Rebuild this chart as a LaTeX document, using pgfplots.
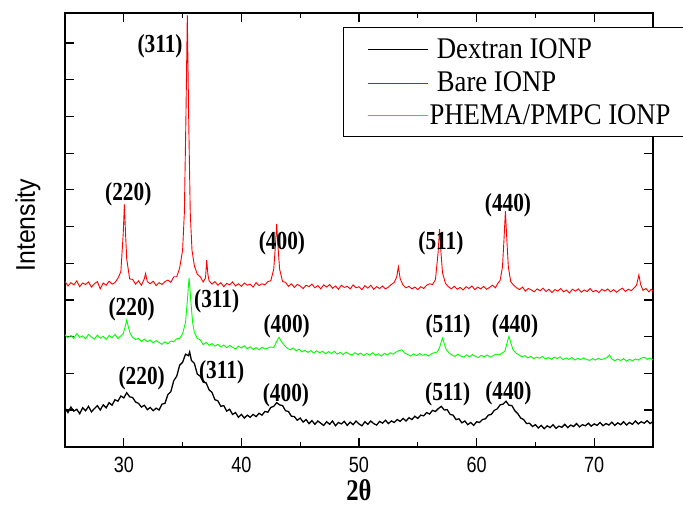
\documentclass[border=0pt]{standalone}
\usepackage{pgfplots}
\pgfplotsset{compat=1.18}
\usepackage{fontspec}
\setmainfont{Liberation Serif}
\newfontfamily\ticksans[FakeStretch=0.82]{Liberation Sans}
\newfontfamily\labsans[FakeStretch=0.92]{Liberation Sans}
\newfontfamily\legserif[FakeStretch=0.89]{Liberation Serif}
\newfontfamily\pkserif[FakeStretch=0.82]{Liberation Serif}
\newcommand\tickfont{\ticksans\fontsize{22bp}{24bp}\selectfont}
\newcommand\ylabfont{\labsans\fontsize{27bp}{29bp}\selectfont}
\newcommand\xlabfont{\pkserif\bfseries\fontsize{30bp}{32bp}\selectfont}
\newcommand\legfont{\legserif\fontsize{30bp}{32bp}\selectfont}
\newcommand\pkfont{\pkserif\bfseries\fontsize{26bp}{28bp}\selectfont}
\definecolor{pgreen}{RGB}{0,255,0}
\definecolor{pred}{RGB}{255,0,0}
\begin{document}
\begin{tikzpicture}
\useasboundingbox (-65bp,-63.3bp) rectangle (618bp,446.7bp);
\begin{axis}[
  at={(0,0)}, anchor=south west,
  scale only axis, width=588bp, height=433.4bp,
  xmin=25, xmax=75, ymin=0, ymax=11.81,
  xtick={30,40,50,60,70}, minor x tick num=1,
  ytick={1,2,3,4,5,6,7,8,9,10,11}, yticklabels={},
  tick align=inside,
  major tick length=9bp, minor tick length=5bp,
  every tick/.style={black, line width=1.2bp},
  axis line style={line width=1.6bp},
  /pgf/number format/assume math mode=true,
  tick label style={font=\tickfont},
  xticklabel style={yshift=-7bp},
  xlabel={2θ},
  xlabel style={font=\xlabfont, at={(axis description cs:0.5,-0.1)}, anchor=center},
  ylabel={Intensity},
  ylabel style={font=\ylabfont, at={(axis description cs:-0.063,0.511)}, anchor=center},
]
% Dextran IONP
\addplot[black, line width=1.3bp] coordinates {
(25,1.05)(25.25,0.93)(25.5,1.08)(25.75,0.97)(26,1.02)(26.25,0.90)(26.5,1.06)(26.75,0.98)(27,1.10)(27.25,0.95)(27.5,1.04)(27.75,1.12)(28,1.00)(28.25,1.14)(28.5,1.06)(28.75,1.20)(29,1.13)(29.25,1.28)(29.5,1.24)(29.75,1.38)(30,1.33)(30.25,1.47)(30.5,1.36)(30.75,1.34)(31,1.22)(31.25,1.18)(31.5,1.08)(31.75,1.13)(32,1.01)(32.25,1.07)(32.5,0.98)(32.75,1.05)(33,1.00)(33.25,1.16)(33.5,1.18)(33.75,1.42)(34,1.50)(34.25,1.80)(34.5,1.92)(34.75,2.22)(35,2.30)(35.25,2.52)(35.5,2.48)(35.6,2.58)(35.75,2.35)(36,2.27)(36.25,1.98)(36.5,1.92)(36.75,1.76)(37,1.74)(37.25,1.55)(37.5,1.48)(37.75,1.28)(38,1.25)(38.25,1.10)(38.5,1.12)(38.75,0.97)(39,1.02)(39.25,0.88)(39.5,0.93)(39.75,0.80)(40,0.88)(40.25,0.78)(40.5,0.86)(40.75,0.80)(41,0.88)(41.25,0.82)(41.5,0.91)(41.75,0.86)(42,0.96)(42.25,0.94)(42.5,1.07)(42.75,1.10)(43,1.20)(43.25,1.14)(43.5,1.12)(43.75,0.98)(44,0.96)(44.25,0.83)(44.5,0.82)(44.75,0.72)(45,0.78)(45.25,0.67)(45.5,0.74)(45.75,0.63)(46,0.71)(46.25,0.61)(46.5,0.70)(46.75,0.64)(47,0.58)(47.25,0.68)(47.5,0.61)(47.75,0.70)(48,0.57)(48.25,0.66)(48.5,0.62)(48.75,0.69)(49,0.58)(49.25,0.67)(49.5,0.60)(49.75,0.70)(50,0.62)(50.25,0.57)(50.5,0.68)(50.75,0.61)(51,0.70)(51.25,0.63)(51.5,0.59)(51.75,0.69)(52,0.64)(52.25,0.72)(52.5,0.63)(52.75,0.70)(53,0.66)(53.25,0.74)(53.5,0.69)(53.75,0.77)(54,0.70)(54.25,0.79)(54.5,0.74)(54.75,0.83)(55,0.77)(55.25,0.86)(55.5,0.84)(55.75,0.93)(56,0.89)(56.25,0.99)(56.5,0.96)(56.75,1.04)(57,1.10)(57.25,1.00)(57.5,1.01)(57.75,0.88)(58,0.86)(58.25,0.74)(58.5,0.76)(58.75,0.65)(59,0.70)(59.25,0.60)(59.5,0.66)(59.75,0.58)(60,0.68)(60.25,0.66)(60.5,0.74)(60.75,0.76)(61,0.86)(61.25,0.88)(61.5,0.99)(61.75,1.03)(62,1.14)(62.25,1.16)(62.5,1.24)(62.75,1.13)(63,1.12)(63.25,0.98)(63.5,0.90)(63.75,0.78)(64,0.74)(64.25,0.63)(64.5,0.64)(64.75,0.55)(65,0.60)(65.25,0.51)(65.5,0.58)(65.75,0.49)(66,0.57)(66.25,0.52)(66.5,0.60)(66.75,0.50)(67,0.56)(67.25,0.53)(67.5,0.61)(67.75,0.52)(68,0.59)(68.25,0.55)(68.5,0.63)(68.75,0.54)(69,0.60)(69.25,0.57)(69.5,0.64)(69.75,0.56)(70,0.62)(70.25,0.58)(70.5,0.66)(70.75,0.57)(71,0.63)(71.25,0.59)(71.5,0.67)(71.75,0.58)(72,0.65)(72.25,0.60)(72.5,0.68)(72.75,0.59)(73,0.66)(73.25,0.61)(73.5,0.70)(73.75,0.62)(74,0.68)(74.25,0.64)(74.5,0.71)(74.75,0.63)(75,0.69)
};
% Bare IONP
\addplot[pred, line width=0.9bp] coordinates {
(25,4.50)(25.25,4.38)(25.5,4.47)(25.75,4.41)(26,4.52)(26.25,4.36)(26.5,4.46)(26.75,4.42)(27,4.49)(27.25,4.35)(27.5,4.44)(27.75,4.50)(28,4.30)(28.25,4.46)(28.5,4.40)(28.75,4.51)(29,4.43)(29.25,4.47)(29.5,4.59)(29.75,4.77)(29.95,5.80)(30.05,6.60)(30.15,5.80)(30.25,5.11)(30.5,4.57)(30.75,4.56)(31,4.43)(31.25,4.52)(31.5,4.40)(31.75,4.58)(31.85,4.72)(32,4.50)(32.25,4.44)(32.5,4.51)(32.75,4.39)(33,4.47)(33.25,4.42)(33.5,4.50)(33.75,4.54)(34,4.48)(34.25,4.63)(34.5,4.63)(34.75,4.87)(35,5.35)(35.15,6.38)(35.28,8.9)(35.4,11.75)(35.52,8.9)(35.65,6.38)(35.8,5.35)(36,4.93)(36.25,4.70)(36.5,4.63)(36.75,4.49)(36.95,4.60)(37.05,5.08)(37.15,4.70)(37.25,4.52)(37.5,4.43)(37.75,4.50)(38,4.40)(38.25,4.47)(38.5,4.36)(38.75,4.45)(39,4.41)(39.25,4.49)(39.5,4.38)(39.75,4.44)(40,4.37)(40.25,4.46)(40.5,4.40)(40.75,4.43)(41,4.35)(41.25,4.47)(41.5,4.39)(41.75,4.44)(42,4.41)(42.25,4.50)(42.5,4.52)(42.75,4.84)(42.88,5.42)(43,6.07)(43.12,5.42)(43.25,4.84)(43.5,4.50)(43.75,4.48)(44,4.37)(44.25,4.44)(44.5,4.34)(44.75,4.42)(45,4.38)(45.25,4.31)(45.5,4.40)(45.75,4.36)(46,4.43)(46.25,4.33)(46.5,4.39)(46.75,4.30)(47,4.41)(47.25,4.35)(47.5,4.42)(47.75,4.32)(48,4.38)(48.25,4.29)(48.5,4.40)(48.75,4.34)(49,4.37)(49.25,4.30)(49.5,4.41)(49.75,4.33)(50,4.36)(50.25,4.28)(50.5,4.39)(50.75,4.32)(51,4.40)(51.25,4.29)(51.5,4.36)(51.75,4.31)(52,4.38)(52.25,4.30)(52.5,4.35)(52.75,4.42)(53,4.48)(53.2,4.62)(53.35,4.90)(53.5,4.58)(53.75,4.40)(54,4.33)(54.25,4.37)(54.5,4.30)(54.75,4.35)(55,4.28)(55.25,4.36)(55.5,4.31)(55.75,4.40)(56,4.44)(56.25,4.42)(56.5,4.55)(56.73,5.30)(56.85,5.93)(56.97,5.30)(57.1,4.74)(57.35,4.45)(57.6,4.36)(57.85,4.30)(58.1,4.37)(58.35,4.29)(58.6,4.34)(58.85,4.27)(59.1,4.36)(59.35,4.31)(59.6,4.38)(59.85,4.28)(60.1,4.35)(60.35,4.30)(60.6,4.37)(60.85,4.29)(61.1,4.34)(61.35,4.40)(61.6,4.33)(61.8,4.45)(62,4.53)(62.2,4.90)(62.33,5.65)(62.45,6.42)(62.57,5.65)(62.7,4.90)(62.9,4.50)(63.15,4.40)(63.4,4.33)(63.65,4.28)(63.9,4.35)(64.15,4.24)(64.4,4.31)(64.65,4.27)(64.9,4.22)(65.15,4.30)(65.4,4.25)(65.65,4.32)(65.9,4.23)(66.15,4.29)(66.4,4.20)(66.65,4.28)(66.9,4.24)(67.15,4.31)(67.4,4.22)(67.65,4.27)(67.9,4.19)(68.15,4.29)(68.4,4.24)(68.65,4.30)(68.9,4.21)(69.15,4.27)(69.4,4.23)(69.65,4.31)(69.9,4.22)(70.15,4.26)(70.4,4.20)(70.65,4.29)(70.9,4.24)(71.15,4.30)(71.4,4.22)(71.65,4.28)(71.9,4.21)(72.15,4.27)(72.4,4.32)(72.65,4.23)(72.9,4.29)(73.15,4.25)(73.4,4.33)(73.6,4.40)(73.8,4.68)(73.95,4.42)(74.15,4.26)(74.4,4.31)(74.65,4.22)(74.85,4.29)(75,4.25)
};
% PHEMA/PMPC IONP
\addplot[pgreen, line width=0.9bp] coordinates {
(25,3.05)(25.25,2.97)(25.5,3.03)(25.75,2.95)(26,3.08)(26.25,2.98)(26.5,3.02)(26.75,2.94)(27,3.06)(27.25,2.99)(27.5,2.93)(27.75,3.04)(28,2.96)(28.25,3.01)(28.5,2.92)(28.75,3.03)(29,2.97)(29.25,3.06)(29.5,2.95)(29.75,3.02)(29.95,3.08)(30.1,3.25)(30.25,3.45)(30.4,3.25)(30.55,3.08)(30.75,2.98)(31,2.92)(31.25,2.95)(31.5,2.87)(31.75,2.93)(32,2.86)(32.25,2.91)(32.5,2.83)(32.75,2.89)(33,2.84)(33.25,2.79)(33.5,2.86)(33.75,2.80)(34,2.88)(34.25,2.86)(34.5,2.94)(34.75,2.95)(35,3.08)(35.25,3.39)(35.4,3.97)(35.55,4.60)(35.7,3.97)(35.85,3.39)(36,3.12)(36.25,2.95)(36.5,2.91)(36.75,2.78)(37,2.84)(37.25,2.76)(37.5,2.81)(37.75,2.74)(38,2.79)(38.25,2.72)(38.5,2.77)(38.75,2.70)(39,2.76)(39.25,2.71)(39.5,2.66)(39.75,2.74)(40,2.69)(40.25,2.75)(40.5,2.67)(40.75,2.72)(41,2.65)(41.25,2.70)(41.5,2.64)(41.75,2.71)(42,2.66)(42.25,2.69)(42.5,2.72)(42.75,2.70)(43,2.87)(43.2,2.98)(43.4,2.87)(43.65,2.76)(43.9,2.68)(44.15,2.64)(44.4,2.69)(44.65,2.61)(44.9,2.66)(45.15,2.58)(45.4,2.63)(45.65,2.57)(45.9,2.62)(46.15,2.55)(46.4,2.61)(46.65,2.56)(46.9,2.60)(47.15,2.53)(47.4,2.59)(47.65,2.54)(47.9,2.60)(48.15,2.52)(48.4,2.57)(48.65,2.51)(48.9,2.58)(49.15,2.53)(49.4,2.49)(49.65,2.56)(49.9,2.51)(50.15,2.55)(50.4,2.48)(50.65,2.54)(50.9,2.50)(51.15,2.56)(51.4,2.49)(51.65,2.53)(51.9,2.47)(52.15,2.54)(52.4,2.50)(52.65,2.56)(52.9,2.52)(53.15,2.58)(53.4,2.62)(53.65,2.64)(53.9,2.55)(54.15,2.51)(54.4,2.47)(54.65,2.53)(54.9,2.48)(55.15,2.54)(55.4,2.49)(55.65,2.52)(55.9,2.47)(56.15,2.53)(56.4,2.56)(56.65,2.58)(56.85,2.70)(57,2.86)(57.1,2.96)(57.22,2.84)(57.4,2.66)(57.65,2.56)(57.9,2.50)(58.15,2.46)(58.4,2.52)(58.65,2.47)(58.9,2.44)(59.15,2.50)(59.4,2.45)(59.65,2.51)(59.9,2.46)(60.15,2.43)(60.4,2.49)(60.65,2.45)(60.9,2.50)(61.15,2.44)(61.4,2.48)(61.65,2.52)(61.9,2.50)(62.15,2.55)(62.4,2.60)(62.6,2.84)(62.75,3.01)(62.9,2.84)(63.1,2.64)(63.35,2.55)(63.6,2.50)(63.85,2.45)(64.1,2.48)(64.35,2.42)(64.6,2.46)(64.85,2.40)(65.1,2.44)(65.35,2.41)(65.6,2.46)(65.85,2.39)(66.1,2.43)(66.35,2.38)(66.6,2.44)(66.85,2.40)(67.1,2.45)(67.35,2.37)(67.6,2.42)(67.85,2.38)(68.1,2.43)(68.35,2.36)(68.6,2.41)(68.85,2.37)(69.1,2.42)(69.35,2.38)(69.6,2.35)(69.85,2.40)(70.1,2.36)(70.35,2.41)(70.6,2.37)(70.85,2.40)(71.1,2.43)(71.3,2.50)(71.5,2.39)(71.75,2.34)(72,2.39)(72.25,2.35)(72.5,2.40)(72.75,2.33)(73,2.38)(73.25,2.34)(73.5,2.39)(73.75,2.36)(74,2.41)(74.25,2.44)(74.5,2.38)(74.75,2.42)(75,2.36)
};
% peak labels
\node[font=\pkfont] at (axis cs:33.08,10.9) {(311)};
\node[font=\pkfont] at (axis cs:30.38,6.89) {(220)};
\node[font=\pkfont] at (axis cs:43.45,5.55) {(400)};
\node[font=\pkfont] at (axis cs:56.97,5.55) {(511)};
\node[font=\pkfont] at (axis cs:62.67,6.57) {(440)};
\node[font=\pkfont] at (axis cs:30.67,3.75) {(220)};
\node[font=\pkfont] at (axis cs:37.9,3.95) {(311)};
\node[font=\pkfont] at (axis cs:43.85,3.29) {(400)};
\node[font=\pkfont] at (axis cs:57.57,3.29) {(511)};
\node[font=\pkfont] at (axis cs:63.27,3.29) {(440)};
\node[font=\pkfont] at (axis cs:31.52,1.86) {(220)};
\node[font=\pkfont] at (axis cs:38.32,2.02) {(311)};
\node[font=\pkfont] at (axis cs:43.79,1.41) {(400)};
\node[font=\pkfont] at (axis cs:57.54,1.43) {(511)};
\node[font=\pkfont] at (axis cs:62.7,1.45) {(440)};
\end{axis}
% legend (axis box spans 0..588bp x 0..433.4bp)
\fill[white] (278.3bp,310bp) rectangle (650bp,419bp);
\draw[line width=0.8bp] (278.3bp,310bp) rectangle (650bp,419bp);
\fill[black] (303.3bp,396.8bp) rectangle (363.3bp,398bp);
\fill[pred] (303.3bp,362.8bp) rectangle (363.3bp,364bp);
\fill[pgreen] (303.3bp,330.4bp) rectangle (363.3bp,331.6bp);
\node[anchor=base west, inner sep=0pt, font=\legfont, text=black] at (371.7bp,388.4bp) {Dextran IONP};
\node[anchor=base west, inner sep=0pt, font=\legfont, text=black] at (371.7bp,355bp) {Bare IONP};
\node[anchor=base west, inner sep=0pt, font=\legfont, text=black] at (364.3bp,321.7bp) {PHEMA/PMPC IONP};
\end{tikzpicture}
\end{document}
